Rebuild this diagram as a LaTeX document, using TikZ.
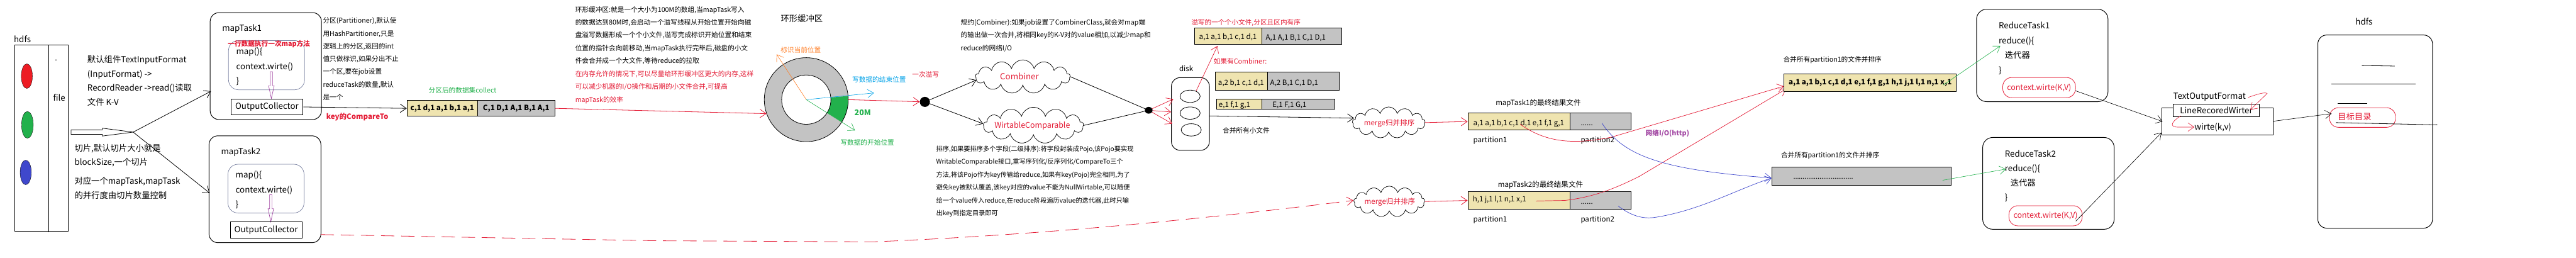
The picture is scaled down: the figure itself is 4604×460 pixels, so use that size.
\documentclass[tikz,border=0pt]{standalone}
\usepackage{fontspec}
\setmainfont{Noto Sans CJK SC}
\usetikzlibrary{arrows.meta,shapes.symbols,shapes.geometric,calc}
\definecolor{cred}{RGB}{228,26,52}
\definecolor{pred}{RGB}{237,28,36}
\definecolor{cgreen}{RGB}{34,177,76}
\definecolor{cblue}{RGB}{0,162,232}
\definecolor{corange}{RGB}{255,127,39}
\definecolor{cpurple}{RGB}{163,73,164}
\definecolor{cnavy}{RGB}{63,72,204}
\definecolor{ctan}{RGB}{239,228,176}
\definecolor{cgray}{RGB}{195,195,195}
\definecolor{cinner}{RGB}{120,128,160}
\tikzset{
 tx/.style={inner sep=0pt, anchor=west},
 t15/.style={tx, font=\fontsize{15}{18}\selectfont, text height=13pt, text depth=2pt},
 t14/.style={tx, font=\fontsize{14}{17}\selectfont, text height=12.2pt, text depth=1.8pt},
 t13/.style={tx, font=\fontsize{13}{16}\selectfont, text height=11.3pt, text depth=1.7pt},
 t12/.style={tx, font=\fontsize{12}{14}\selectfont, text height=10.4pt, text depth=1.6pt},
 t11/.style={tx, font=\fontsize{11.5}{14}\selectfont, text height=10pt, text depth=1.5pt},
 box/.style={draw, line width=1.1pt, inner sep=0pt, anchor=north west},
 ln/.style={line width=0.9pt},
 barb/.style={-{Straight Barb[length=11pt,width=15pt]}},
 puff/.style={cloud, draw, cloud puffs=13, cloud ignores aspect, inner sep=0pt, line width=0.8pt},
}
\newcommand\mylines[6]{\foreach \t [count=\i] in {#6}{\node[#1] (#2\i) at (#3,{#4+(\i-1)*#5}) {\t};}}
\newcommand\pdown[3]{\draw[cpurple, line width=0.8pt] ({#1-2},#2) -- ({#1-2},{#2+25}) -- ({#1-5},{#2+25}) -- (#1,#3) -- ({#1+5},{#2+25}) -- ({#1+2},{#2+25}) -- ({#1+2},#2) -- cycle;}
\begin{document}
\begin{tikzpicture}[x=1pt,y=-1pt]
\useasboundingbox (0,0) rectangle (4604,460);
\fill[white] (0,0) rectangle (4604,460);

% ---------- hdfs input ----------
\node[t15,anchor=center] (hdfsin) at (40,70) {hdfs};
\node[box, minimum width=95, minimum height=332] (inbox) at (26,80) {};
\draw[ln] (87,80) -- (87,415);
\fill (100,107) circle[radius=1];
\node[t15] (file) at (95,175) {file};
\node[ellipse, draw, fill=pred, minimum width=20, minimum height=44, inner sep=0pt] (e1) at (48,136) {};
\node[ellipse, draw, fill=cgreen, minimum width=21, minimum height=48, inner sep=0pt] (e2) at (49,223) {};
\node[ellipse, draw, fill=cnavy, minimum width=20, minimum height=44, inner sep=0pt] (e3) at (46,308) {};
\draw[ln] (127,232) -- (183,232) -- (183,229) -- (238,236) -- (183,243) -- (183,240) -- (127,240) -- cycle;
\coordinate (S) at (238,236);
\coordinate (mt1in) at (377,163);
\coordinate (mt2in) at (375,345);

\mylines{t15}{ia}{156}{106}{25.7}{{默认组件TextInputFormat},{(InputFormat) ->},{RecordReader ->read()读取},{文件 K-V}}
\mylines{t15}{ib}{133}{265}{25}{{切片,默认切片大小就是},{blockSize,一个切片}}
\mylines{t15}{ic}{133}{323}{26}{{对应一个mapTask,mapTask},{的并行度由切片数量控制}}

% ---------- mapTask1 ----------
\node[box, rounded corners=16pt, minimum width=199, minimum height=191] (mt1) at (375,22) {};
\node[t15] (mt1t) at (397,50) {mapTask1};
\node[box, draw=cinner, line width=0.8pt, rounded corners=18pt, minimum width=136, minimum height=88] (mi1) at (408,72) {};
\mylines{t15}{ma}{422}{92}{26.5}{{map()\{},{context.wirte()},{\}}}
\node[t12, text=cred] (note1) at (407,78) {\bfseries 一行数据执行一次map方法};
\pdown{485}{128}{176}
\node[box, minimum width=129, minimum height=29, font=\fontsize{15}{18}\selectfont] (oc1) at (412,176) {OutputCollector};

% ---------- mapTask2 ----------
\node[box, rounded corners=16pt, minimum width=200, minimum height=191] (mt2) at (373,242) {};
\node[t15] (mt2t) at (395,271) {mapTask2};
\node[box, draw=cinner, line width=0.8pt, rounded corners=18pt, minimum width=136, minimum height=87] (mi2) at (407,293) {};
\mylines{t15}{mb}{421}{312}{26.5}{{map()\{},{context.wirte()},{\}}}
\pdown{484}{348}{396}
\node[box, minimum width=128, minimum height=29, font=\fontsize{15}{18}\selectfont] (oc2) at (411,396) {OutputCollector};

\draw[ln, barb] (S) -- (mt1in);
\draw[ln, barb] (S) -- (mt2in);

% ---------- partition ----------
\mylines{t12}{pt}{577}{37}{22.8}{{分区(Partitioner),默认使},{用HashPartitioner,只是},{逻辑上的分区,返回的int},{值只做标识,如果分出不止},{一个区,要在job设置},{reduceTask的数量,默认},{是一个}}
\node[t13, text=cred] (kc) at (583,208) {\bfseries key的CompareTo};
\node[t12, text=cgreen] (collect) at (766,161) {分区后的数据集collect};
\node[box, fill=ctan, minimum width=126, minimum height=28, font=\fontsize{13}{16}\selectfont\bfseries] (yb1) at (727,179) {c,1 d,1 a,1 b,1 a,1};
\node[box, fill=cgray, minimum width=138, minimum height=28, font=\fontsize{13}{16}\selectfont\bfseries] (gb1) at (853,179) {C,1 D,1 A,1 B,1 A,1};
\draw[ln, barb] (oc1.east) -- (yb1.west);

% ---------- ring buffer ----------
\mylines{t12}{rt}{1028}{17}{23}{{环形缓冲区:就是一个大小为100M的数组,当mapTask写入},{的数据达到80M时,会启动一个溢写线程从开始位置开始向磁},{盘溢写数据形成一个个小文件,溢写完成标识开始位置和结束},{位置的指针会向前移动,当mapTask执行完毕后,磁盘的小文},{件会合并成一个大文件,等待reduce的拉取}}
\mylines{t12,text=cred}{rr}{1028}{132}{23}{{在内存允许的情况下,可以尽量给环形缓冲区更大的内存,这样},{可以减少机器的I/O操作和后期的小文件合并,可提高},{mapTask的效率}}
\node[t15, anchor=center] (ringt) at (1433,33) {环形缓冲区};
\coordinate (rc) at (1441,178);
\fill[cgray] (rc) circle[radius=75];
\fill[white] (rc) circle[radius=44];
\fill[cgreen] ($(rc)+(-5:75)$) arc[start angle=-5,end angle=32,radius=75] -- ($(rc)+(32:44)$) arc[start angle=32,end angle=-5,radius=44] -- cycle;
\draw[line width=0.9pt] (rc) circle[radius=75] (rc) circle[radius=44];
\node[circle, minimum size=150, inner sep=0pt] (ring) at (rc) {};
\coordinate (oend) at (1388,97);
\coordinate (bend) at (1562,166);
\coordinate (gend) at (1528,233);
\draw[corange, line width=0.7pt, barb] (rc) -- (oend);
\draw[cblue, line width=0.7pt, barb] (rc) -- (bend);
\draw[cgreen, line width=0.7pt, barb] (rc) -- (gend);
\node[t12, text=corange] (olab) at (1395,89) {标识当前位置};
\node[t12, text=cblue] (blab) at (1523,142) {写数据的结束位置};
\node[t12, text=cgreen] (glab) at (1502,255) {写数据的开始位置};
\node[t14, text=cgreen] (g20) at (1527,201) {\bfseries 20M};
\coordinate (ringin) at (1370,203);
\draw[cred, ln, barb] (gb1.east) -- (ringin);

% ---------- spill ----------
\node[circle, fill, inner sep=0pt, minimum size=18] (dot1) at (1653,182) {};
\draw[cred, ln, barb] (ring.east) -- (dot1);
\node[t12, text=cred] (spill) at (1630,133) {一次溢写};
\mylines{t12}{cb}{1717}{40}{23}{{规约(Combiner):如果job设置了CombinerClass,就会对map端},{的输出做一次合并,将相同key的K-V对的value相加,以减少map和},{reduce的网络I/O}}
\node[puff, minimum width=169, minimum height=60] (comb) at (1828,137) {};
\node[t15, anchor=center, text=cred] (combt) at (1822,137) {Combiner};
\node[puff, minimum width=179, minimum height=65] (wc) at (1847,224) {};
\node[t14, anchor=center, text=cred] (wct) at (1845,223) {WirtableComparable};
\coordinate (combin) at (1745,143);
\coordinate (wcin) at (1757,221);
\draw[ln, barb] (dot1) -- (combin);
\draw[ln, barb] (dot1) -- (wcin);
\mylines{t11}{so}{1673}{266}{23}{{排序,如果要排序多个字段(二级排序):将字段封装成Pojo,该Pojo要实现},{WritableComparable接口,重写序列化/反序列化/CompareTo三个},{方法,将该Pojo作为key传输给reduce,如果有key(Pojo)完全相同,为了},{避免key被默认覆盖,该key对应的value不能为NullWirtable,可以随便},{给一个value传入reduce,在reduce阶段遍历value的迭代器,此时只输},{出key到指定目录即可}}
\node[ellipse, fill, inner sep=0pt, minimum width=14, minimum height=12] (dot2) at (2053,197) {};
\draw[ln] (comb.east) -- (dot2);
\draw[ln] (wc.east) -- (dot2);

% ---------- disk ----------
\node[box, rounded corners=16pt, minimum width=68, minimum height=130] (disk) at (2093,138) {};
\node[t13, anchor=center] (diskt) at (2120,123) {disk};
\node[ellipse, draw, line width=0.9pt, minimum width=36, minimum height=22, inner sep=0pt] (d1) at (2127,172) {};
\node[ellipse, draw, line width=0.9pt, minimum width=36, minimum height=22, inner sep=0pt] (d2) at (2127,202) {};
\node[ellipse, draw, line width=0.9pt, minimum width=36, minimum height=22, inner sep=0pt] (d3) at (2129,232) {};
\coordinate (k1) at (2097,177);
\coordinate (k2) at (2093,200);
\coordinate (k3) at (2095,221);
\draw[cred, line width=0.8pt, barb] (dot2) -- (k1);
\draw[cred, line width=0.8pt, barb] (dot2) -- (k2);
\draw[cred, line width=0.8pt, barb] (dot2) -- (k3);

\node[t12, text=cred] (spt) at (2129,40) {溢写的一个个小文件,分区且区内有序};
\node[box, fill=ctan, minimum width=121, minimum height=30] (sy1) at (2134,49) {};
\node[box, fill=cgray, minimum width=143, minimum height=30] (sg1) at (2255,49) {};
\node[t13] (sy1t) at (2143,65) {a,1 a,1 b,1 c,1 d,1};
\node[t13] (sg1t) at (2262,67) {A,1 A,1 B,1 C,1 D,1};
\coordinate (up1) at (2138,162);
\coordinate (up2) at (2176,82);
\draw[cred, line width=0.8pt, barb] (up1) -- (up2);
\node[t12, text=cred] (ifc) at (2169,110) {如果有Combiner:};
\node[box, fill=ctan, minimum width=93, minimum height=33] (sy2) at (2172,128) {};
\node[box, fill=cgray, minimum width=128, minimum height=33] (sg2) at (2265,128) {};
\node[t13] (sy2t) at (2177,148) {a,2 b,1 c,1 d,1};
\node[t13] (sg2t) at (2270,148) {A,2 B,1 C,1 D,1};
\node[box, fill=ctan, minimum width=81, minimum height=19] (sy3) at (2174,176) {};
\node[box, fill=cgray, minimum width=130, minimum height=19] (sg3) at (2255,176) {};
\node[t13] (sy3t) at (2178,187) {e,1 f,1 g,1};
\node[t13] (sg3t) at (2274,187) {E,1 F,1 G,1};
\node[t12] (mall) at (2185,233) {合并所有小文件};

% ---------- merge ----------
\node[puff, minimum width=130, minimum height=56] (m1) at (2482,219) {};
\node[t13, anchor=center, text=cred] (m1t) at (2483,219) {merge归并排序};
\node[puff, minimum width=127, minimum height=55] (m2) at (2483,360) {};
\node[t13, anchor=center, text=cred] (m2t) at (2484,360) {merge归并排序};
\coordinate (dk) at (2161,207);
\coordinate (m1in) at (2420,211);
\draw[ln, barb] (dk) -- (m1in);
\coordinate (d0) at (573,419);
\coordinate (m2in) at (2419,358);
\draw[cred, ln, dash pattern=on 24pt off 12pt, barb] (d0) -- (1170,430) -- (1560,432) .. controls (1900,418) and (2200,385) .. (m2in);

% ---------- map outputs ----------
\node[t13] (r1t) at (2673,183) {mapTask1的最终结果文件};
\node[box, fill=ctan, minimum width=182, minimum height=31] (fy1) at (2623,201) {};
\node[box, fill=cgray, minimum width=109, minimum height=31] (fg1) at (2805,201) {};
\node[t13] (fy1t) at (2633,220) {a,1 a,1 b,1 c,1 d,1 e,1 f,1 g,1};
\node[t13] (fg1t) at (2825,219) {......};
\node[t13] (p11) at (2633,250) {partition1};
\node[t13] (p12) at (2825,250) {partition2};
\node[t13] (r2t) at (2677,330) {mapTask2的最终结果文件};
\node[box, fill=ctan, minimum width=182, minimum height=31] (fy2) at (2623,342) {};
\node[box, fill=cgray, minimum width=109, minimum height=31] (fg2) at (2805,342) {};
\node[t13] (fy2t) at (2632,355) {h,1 j,1 l,1 n,1 x,1};
\node[t13] (fg2t) at (2825,360) {......};
\node[t13] (p21) at (2633,391) {partition1};
\node[t13] (p22) at (2825,391) {partition2};
\draw[cred, ln, barb] (m1.east) -- (fy1.west);
\draw[cred, ln, barb] (m2.east) -- (fy2.west);

% ---------- shuffle ----------
\coordinate (a1) at (2717,222);
\coordinate (a2) at (2745,359);
\coordinate (b1) at (2863,220);
\coordinate (b2) at (2892,368);
\coordinate (my1) at (3188,154);
\coordinate (my2) at (3192,159);
\coordinate (mg1) at (3166,318);
\draw[cred, line width=0.8pt, barb] (a1) .. controls (2765,256) and (2815,258) .. (2880,245) -- (my1);
\draw[cred, line width=0.8pt, barb] (a2) -- (2797,358) .. controls (2850,352) and (2890,335) .. (2930,315) -- (my2);
\draw[cnavy, line width=0.8pt, barb] (b1) .. controls (2900,275) and (2960,300) .. (3130,315) -- (mg1);
\draw[cnavy, line width=0.8pt, barb] (b2) .. controls (2915,385) and (2935,392) .. (2960,388) .. controls (3040,375) and (3100,340) .. (mg1);
\node[t12, text=cpurple] (net) at (2941,238) {\bfseries 网络I/O(http)};

\node[t12] (mp1) at (3187,106) {合并所有partition1的文件并排序};
\node[box, fill=ctan, minimum width=308, minimum height=32, font=\fontsize{13}{16}\selectfont\bfseries] (my) at (3188,131) {a,1 a,1 b,1 c,1 d,1 e,1 f,1 g,1 h,1 j,1 l,1 n,1 x,1};
\node[t12] (mp2) at (3183,277) {合并所有partition1的文件并排序};
\node[box, fill=cgray, minimum width=321, minimum height=32] (mg) at (3166,298) {};
\node[t12] (mgt) at (3205,315) {................................};

% ---------- reduce ----------
\node[box, rounded corners=18pt, minimum width=235, minimum height=165] (rt1) at (3532,16) {};
\mylines{t15}{ra}{3572}{46}{26.3}{{ReduceTask1},{reduce()\{}}
\node[t15] (ra3) at (3583,98) {迭代器};
\node[t15] (ra4) at (3572,125) {\}};
\node[box, draw=cred, line width=0.9pt, rounded corners=16pt, minimum width=130, minimum height=36, font=\fontsize{14}{17}\selectfont, text=cred] (cx1) at (3579,138) {context.wirte(K,V)};
\node[box, rounded corners=18pt, minimum width=235, minimum height=164] (rt2) at (3543,245) {};
\mylines{t15}{rb}{3583}{275}{26.3}{{ReduceTask2},{reduce()\{}}
\node[t15] (rb3) at (3593,327) {迭代器};
\node[t15] (rb4) at (3583,353) {\}};
\node[box, draw=cred, line width=0.9pt, rounded corners=16pt, minimum width=131, minimum height=36, font=\fontsize{14}{17}\selectfont, text=cred] (cx2) at (3590,367) {context.wirte(K,V)};
\coordinate (g1s) at (3473,152);
\coordinate (g1e) at (3575,82);
\coordinate (g2s) at (3472,322);
\coordinate (g2e) at (3585,302);
\draw[cgreen, line width=0.7pt, barb] (g1s) -- (g1e);
\draw[cgreen, line width=0.7pt, barb] (g2s) -- (g2e);

% ---------- output format ----------
\node[t15] (toft) at (3884,171) {TextOutputFormat};
\node[box, minimum width=199, minimum height=48] (tof) at (3863,192) {};
\node[box, fill=white, minimum width=153, minimum height=22, font=\fontsize{15}{18}\selectfont] (lrw) at (3884,186) {LineRecoredWirter};
\node[t15] (wkv) at (3922,227) {wirte(k,v)};
\coordinate (c1s) at (3709,162);
\coordinate (t1e) at (3865,217);
\coordinate (c2s) at (3710,395);
\coordinate (t2e) at (3863,237);
\draw[line width=0.7pt, barb] (c1s) -- (t1e);
\draw[line width=0.7pt, barb] (c2s) -- (t2e);
\coordinate (q1) at (4018,174);
\coordinate (q2) at (4022,196);
\coordinate (q3) at (3898,207);
\draw[cred, line width=0.7pt, barb] (q1) .. controls (4035,168) and (4048,164) .. (4052,167) -- (q2);
\draw[cred, line width=0.7pt, barb] (q3) .. controls (3885,214) and (3872,228) .. (3895,227) -- (wkv.west);

% ---------- hdfs output ----------
\node[t15, anchor=center] (hdfsout) at (4225,39) {hdfs};
\node[box, rounded corners=16pt, minimum width=205, minimum height=345] (outbox) at (4142,62) {};
\draw[ln] (4221,117) -- (4280,118);
\draw[ln] (4167,150) -- (4317,150);
\draw[ln] (4178,185) -- (4231,185);
\node[box, draw=cred, line width=0.9pt, rounded corners=16pt, minimum width=118, minimum height=35] (goal) at (4163,192) {};
\node[t15, text=cred] (goalt) at (4178,209) {目标目录};
\draw[ln] (4175,219) -- (4356,223);
\coordinate (goalin) at (4167,203);
\draw[line width=0.7pt, barb] (tof.east) -- (goalin);
\end{tikzpicture}
\end{document}
